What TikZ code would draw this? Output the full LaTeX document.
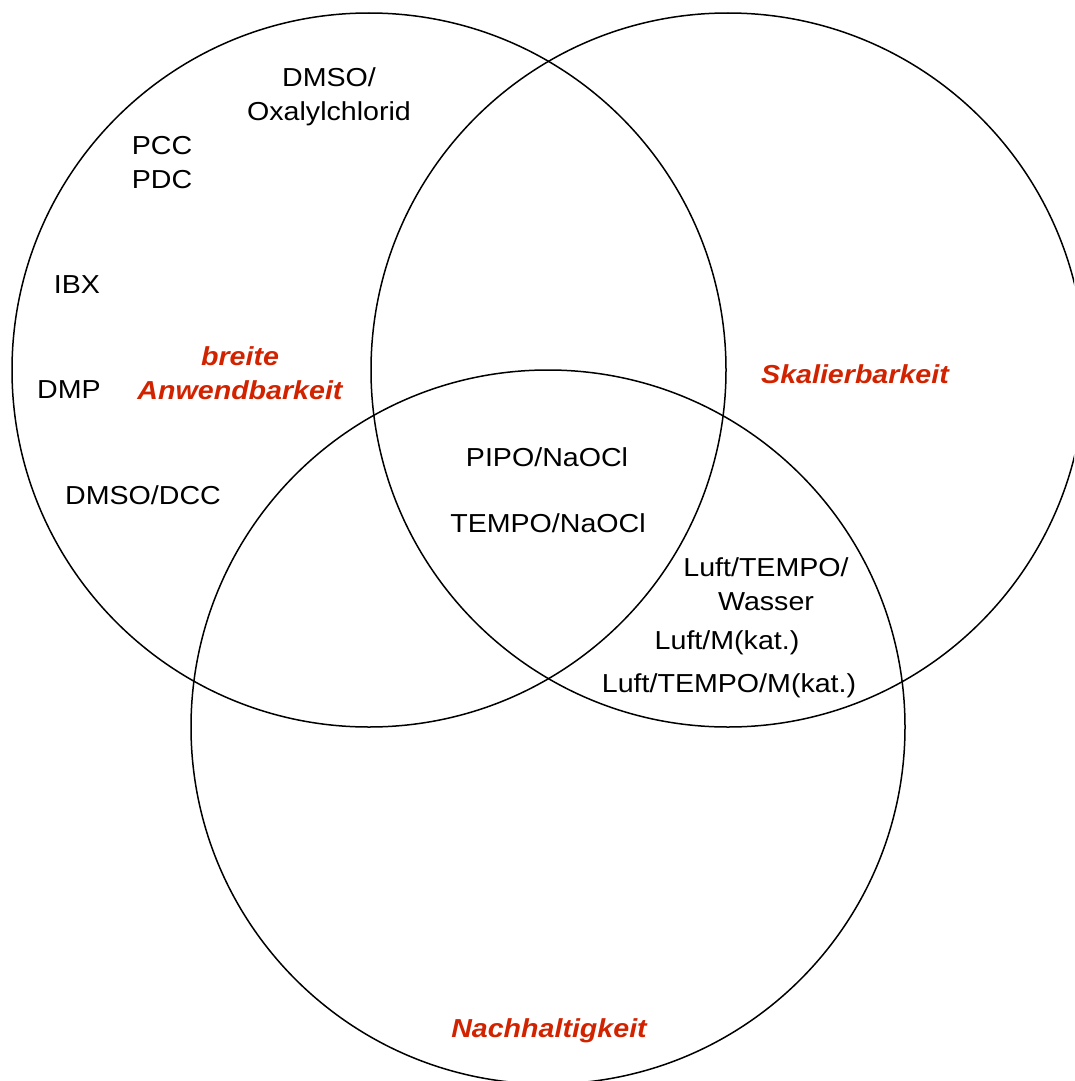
\documentclass[tikz,border=0pt]{standalone}
\usepackage{fontspec}
\setmainfont{Liberation Sans}[FakeStretch=1.1]
\usetikzlibrary{shapes}
\definecolor{labelRed}{RGB}{210,35,0}

\begin{document}
\begin{tikzpicture}
[x=1pt,y=-1pt,%
  setDecorate/.style={shape=circle,draw,line width=1.5pt,minimum size=714pt,inner sep=0pt},%
  itemDecorate/.style={align=center,inner sep=0pt,font=\fontsize{26}{34}\selectfont},%
  labelDecorate/.style={itemDecorate,text=labelRed,font=\fontsize{26}{34}\selectfont\bfseries\itshape}]
\useasboundingbox (0,0) rectangle (1074,1081);
\clip (0,0) rectangle (1074,1081);
%% the three sets
\node[setDecorate] (anwendung) at (369,370) {};
\node[setDecorate] (skalierung) at (728,370) {};
\node[setDecorate] (nachhaltig) at (548,727) {};
%% set labels
\node[labelDecorate] (anwendungLabel) at (240,373) {breite\\Anwendbarkeit};
\node[labelDecorate] (skalierungLabel) at (855,374) {Skalierbarkeit};
\node[labelDecorate] (nachhaltigLabel) at (549,1031) {Nachhaltigkeit};
%% oxidation methods
\foreach \nodename/\x/\y/\method in {
  swern/329/97/{DMSO/\\Oxalylchlorid}, chrom/162/163/{PCC\\PDC},
  ibx/77/285/IBX, dmp/69/390/DMP, pfitzner/143/495/{DMSO/DCC},
  pipo/547/457/{PIPO/NaOCl}, tempo/548/523/{TEMPO/NaOCl},
  luftWasser/766/584/{Luft/TEMPO/\\Wasser}, luftMetall/727/643/{Luft/M(kat.)},
  luftTempo/729/686/{Luft/TEMPO/M(kat.)}}
{
  \node[itemDecorate] (\nodename) at (\x,\y) {\method};
}
\end{tikzpicture}
\end{document}
